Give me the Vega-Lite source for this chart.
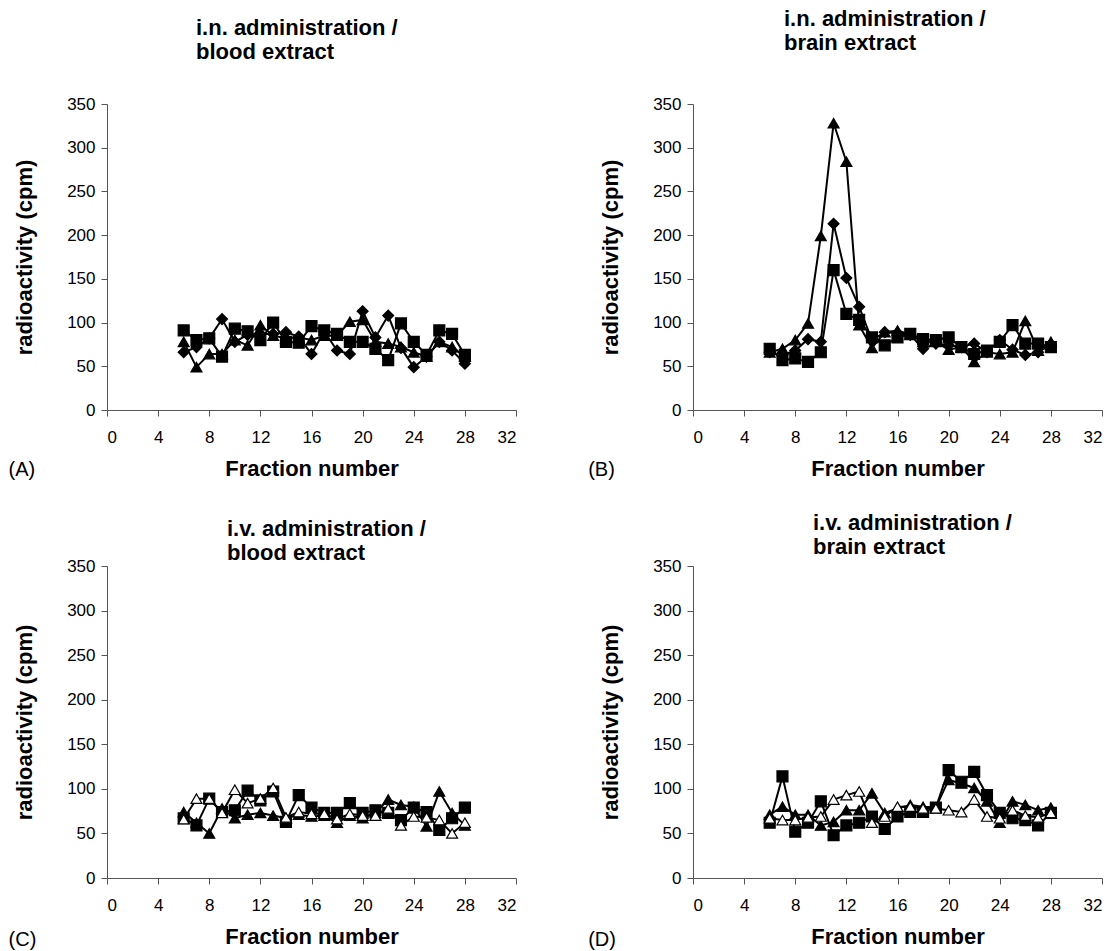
{
"$schema":"https://vega.github.io/schema/vega-lite/v6.json",
"padding":{"left":8,"top":8,"right":3,"bottom":2},
"background":"white",
"config":{
 "view":{"stroke":null},
 "font":"Liberation Sans",
 "axis":{"grid":false,"labelFont":"Liberation Sans","labelFontSize":17,"labelColor":"black","titleFont":"Liberation Sans","titleFontSize":22,"titleFontWeight":"bold","titleColor":"black","domainColor":"#555","tickColor":"#555","tickSize":6},
 "axisY":{"titlePadding":30,"labelPadding":6},
 "axisX":{"titlePadding":13,"labelPadding":13},
 "title":{"font":"Liberation Sans","fontSize":22,"fontWeight":"bold","color":"black","anchor":"start","frame":"group","lineHeight":24}
},
"datasets":{"d":[
{"p":"A","s":"square","x":6,"y":91},{"p":"A","s":"square","x":7,"y":80},{"p":"A","s":"square","x":8,"y":82},{"p":"A","s":"square","x":9,"y":61},{"p":"A","s":"square","x":10,"y":93},{"p":"A","s":"square","x":11,"y":90},{"p":"A","s":"square","x":12,"y":80},{"p":"A","s":"square","x":13,"y":100},{"p":"A","s":"square","x":14,"y":78},{"p":"A","s":"square","x":15,"y":77},{"p":"A","s":"square","x":16,"y":96},{"p":"A","s":"square","x":17,"y":91},{"p":"A","s":"square","x":18,"y":87},{"p":"A","s":"square","x":19,"y":78},{"p":"A","s":"square","x":20,"y":78},{"p":"A","s":"square","x":21,"y":70},{"p":"A","s":"square","x":22,"y":57},{"p":"A","s":"square","x":23,"y":99},{"p":"A","s":"square","x":24,"y":78},{"p":"A","s":"square","x":25,"y":63},{"p":"A","s":"square","x":26,"y":91},{"p":"A","s":"square","x":27,"y":87},{"p":"A","s":"square","x":28,"y":63},
{"p":"A","s":"diamond","x":6,"y":66},{"p":"A","s":"diamond","x":7,"y":72},{"p":"A","s":"diamond","x":8,"y":82},{"p":"A","s":"diamond","x":9,"y":104},{"p":"A","s":"diamond","x":10,"y":78},{"p":"A","s":"diamond","x":11,"y":86},{"p":"A","s":"diamond","x":12,"y":87},{"p":"A","s":"diamond","x":13,"y":87},{"p":"A","s":"diamond","x":14,"y":89},{"p":"A","s":"diamond","x":15,"y":84},{"p":"A","s":"diamond","x":16,"y":64},{"p":"A","s":"diamond","x":17,"y":90},{"p":"A","s":"diamond","x":18,"y":68},{"p":"A","s":"diamond","x":19,"y":64},{"p":"A","s":"diamond","x":20,"y":113},{"p":"A","s":"diamond","x":21,"y":83},{"p":"A","s":"diamond","x":22,"y":108},{"p":"A","s":"diamond","x":23,"y":71},{"p":"A","s":"diamond","x":24,"y":49},{"p":"A","s":"diamond","x":25,"y":61},{"p":"A","s":"diamond","x":26,"y":78},{"p":"A","s":"diamond","x":27,"y":68},{"p":"A","s":"diamond","x":28,"y":53},
{"p":"A","s":"tri","x":6,"y":78},{"p":"A","s":"tri","x":7,"y":49},{"p":"A","s":"tri","x":8,"y":64},{"p":"A","s":"tri","x":9,"y":64},{"p":"A","s":"tri","x":10,"y":80},{"p":"A","s":"tri","x":11,"y":74},{"p":"A","s":"tri","x":12,"y":97},{"p":"A","s":"tri","x":13,"y":85},{"p":"A","s":"tri","x":14,"y":82},{"p":"A","s":"tri","x":15,"y":83},{"p":"A","s":"tri","x":16,"y":80},{"p":"A","s":"tri","x":17,"y":85},{"p":"A","s":"tri","x":18,"y":85},{"p":"A","s":"tri","x":19,"y":101},{"p":"A","s":"tri","x":20,"y":103},{"p":"A","s":"tri","x":21,"y":78},{"p":"A","s":"tri","x":22,"y":76},{"p":"A","s":"tri","x":23,"y":72},{"p":"A","s":"tri","x":24,"y":66},{"p":"A","s":"tri","x":25,"y":61},{"p":"A","s":"tri","x":26,"y":78},{"p":"A","s":"tri","x":27,"y":72},{"p":"A","s":"tri","x":28,"y":61},
{"p":"B","s":"tri","x":6,"y":66},{"p":"B","s":"tri","x":7,"y":70},{"p":"B","s":"tri","x":8,"y":80},{"p":"B","s":"tri","x":9,"y":99},{"p":"B","s":"tri","x":10,"y":199},{"p":"B","s":"tri","x":11,"y":328},{"p":"B","s":"tri","x":12,"y":284},{"p":"B","s":"tri","x":13,"y":97},{"p":"B","s":"tri","x":14,"y":71},{"p":"B","s":"tri","x":15,"y":89},{"p":"B","s":"tri","x":16,"y":91},{"p":"B","s":"tri","x":17,"y":86},{"p":"B","s":"tri","x":18,"y":78},{"p":"B","s":"tri","x":19,"y":78},{"p":"B","s":"tri","x":20,"y":69},{"p":"B","s":"tri","x":21,"y":72},{"p":"B","s":"tri","x":22,"y":55},{"p":"B","s":"tri","x":23,"y":66},{"p":"B","s":"tri","x":24,"y":64},{"p":"B","s":"tri","x":25,"y":66},{"p":"B","s":"tri","x":26,"y":102},{"p":"B","s":"tri","x":27,"y":68},{"p":"B","s":"tri","x":28,"y":78},
{"p":"B","s":"diamond","x":6,"y":66},{"p":"B","s":"diamond","x":7,"y":63},{"p":"B","s":"diamond","x":8,"y":68},{"p":"B","s":"diamond","x":9,"y":81},{"p":"B","s":"diamond","x":10,"y":78},{"p":"B","s":"diamond","x":11,"y":213},{"p":"B","s":"diamond","x":12,"y":151},{"p":"B","s":"diamond","x":13,"y":118},{"p":"B","s":"diamond","x":14,"y":80},{"p":"B","s":"diamond","x":15,"y":89},{"p":"B","s":"diamond","x":16,"y":88},{"p":"B","s":"diamond","x":17,"y":86},{"p":"B","s":"diamond","x":18,"y":70},{"p":"B","s":"diamond","x":19,"y":76},{"p":"B","s":"diamond","x":20,"y":74},{"p":"B","s":"diamond","x":21,"y":72},{"p":"B","s":"diamond","x":22,"y":76},{"p":"B","s":"diamond","x":23,"y":66},{"p":"B","s":"diamond","x":24,"y":80},{"p":"B","s":"diamond","x":25,"y":69},{"p":"B","s":"diamond","x":26,"y":63},{"p":"B","s":"diamond","x":27,"y":66},{"p":"B","s":"diamond","x":28,"y":75},
{"p":"B","s":"square","x":6,"y":70},{"p":"B","s":"square","x":7,"y":57},{"p":"B","s":"square","x":8,"y":59},{"p":"B","s":"square","x":9,"y":55},{"p":"B","s":"square","x":10,"y":66},{"p":"B","s":"square","x":11,"y":160},{"p":"B","s":"square","x":12,"y":110},{"p":"B","s":"square","x":13,"y":103},{"p":"B","s":"square","x":14,"y":83},{"p":"B","s":"square","x":15,"y":74},{"p":"B","s":"square","x":16,"y":83},{"p":"B","s":"square","x":17,"y":87},{"p":"B","s":"square","x":18,"y":81},{"p":"B","s":"square","x":19,"y":80},{"p":"B","s":"square","x":20,"y":83},{"p":"B","s":"square","x":21,"y":72},{"p":"B","s":"square","x":22,"y":64},{"p":"B","s":"square","x":23,"y":68},{"p":"B","s":"square","x":24,"y":78},{"p":"B","s":"square","x":25,"y":97},{"p":"B","s":"square","x":26,"y":76},{"p":"B","s":"square","x":27,"y":76},{"p":"B","s":"square","x":28,"y":72},
{"p":"C","s":"square","x":6,"y":67},{"p":"C","s":"square","x":7,"y":59},{"p":"C","s":"square","x":8,"y":89},{"p":"C","s":"square","x":9,"y":74},{"p":"C","s":"square","x":10,"y":76},{"p":"C","s":"square","x":11,"y":98},{"p":"C","s":"square","x":12,"y":87},{"p":"C","s":"square","x":13,"y":97},{"p":"C","s":"square","x":14,"y":63},{"p":"C","s":"square","x":15,"y":93},{"p":"C","s":"square","x":16,"y":79},{"p":"C","s":"square","x":17,"y":73},{"p":"C","s":"square","x":18,"y":73},{"p":"C","s":"square","x":19,"y":84},{"p":"C","s":"square","x":20,"y":73},{"p":"C","s":"square","x":21,"y":76},{"p":"C","s":"square","x":22,"y":73},{"p":"C","s":"square","x":23,"y":65},{"p":"C","s":"square","x":24,"y":79},{"p":"C","s":"square","x":25,"y":74},{"p":"C","s":"square","x":26,"y":54},{"p":"C","s":"square","x":27,"y":67},{"p":"C","s":"square","x":28,"y":79},
{"p":"C","s":"tri","x":6,"y":74},{"p":"C","s":"tri","x":7,"y":62},{"p":"C","s":"tri","x":8,"y":50},{"p":"C","s":"tri","x":9,"y":78},{"p":"C","s":"tri","x":10,"y":67},{"p":"C","s":"tri","x":11,"y":71},{"p":"C","s":"tri","x":12,"y":73},{"p":"C","s":"tri","x":13,"y":70},{"p":"C","s":"tri","x":14,"y":67},{"p":"C","s":"tri","x":15,"y":71},{"p":"C","s":"tri","x":16,"y":69},{"p":"C","s":"tri","x":17,"y":70},{"p":"C","s":"tri","x":18,"y":62},{"p":"C","s":"tri","x":19,"y":70},{"p":"C","s":"tri","x":20,"y":67},{"p":"C","s":"tri","x":21,"y":73},{"p":"C","s":"tri","x":22,"y":88},{"p":"C","s":"tri","x":23,"y":82},{"p":"C","s":"tri","x":24,"y":80},{"p":"C","s":"tri","x":25,"y":58},{"p":"C","s":"tri","x":26,"y":97},{"p":"C","s":"tri","x":27,"y":73},{"p":"C","s":"tri","x":28,"y":59},
{"p":"C","s":"open","x":6,"y":66},{"p":"C","s":"open","x":7,"y":89},{"p":"C","s":"open","x":8,"y":89},{"p":"C","s":"open","x":9,"y":73},{"p":"C","s":"open","x":10,"y":99},{"p":"C","s":"open","x":11,"y":84},{"p":"C","s":"open","x":12,"y":89},{"p":"C","s":"open","x":13,"y":101},{"p":"C","s":"open","x":14,"y":68},{"p":"C","s":"open","x":15,"y":74},{"p":"C","s":"open","x":16,"y":72},{"p":"C","s":"open","x":17,"y":72},{"p":"C","s":"open","x":18,"y":66},{"p":"C","s":"open","x":19,"y":72},{"p":"C","s":"open","x":20,"y":70},{"p":"C","s":"open","x":21,"y":70},{"p":"C","s":"open","x":22,"y":78},{"p":"C","s":"open","x":23,"y":59},{"p":"C","s":"open","x":24,"y":69},{"p":"C","s":"open","x":25,"y":68},{"p":"C","s":"open","x":26,"y":65},{"p":"C","s":"open","x":27,"y":50},{"p":"C","s":"open","x":28,"y":62},
{"p":"D","s":"square","x":6,"y":62},{"p":"D","s":"square","x":7,"y":114},{"p":"D","s":"square","x":8,"y":52},{"p":"D","s":"square","x":9,"y":62},{"p":"D","s":"square","x":10,"y":86},{"p":"D","s":"square","x":11,"y":48},{"p":"D","s":"square","x":12,"y":59},{"p":"D","s":"square","x":13,"y":62},{"p":"D","s":"square","x":14,"y":69},{"p":"D","s":"square","x":15,"y":55},{"p":"D","s":"square","x":16,"y":69},{"p":"D","s":"square","x":17,"y":74},{"p":"D","s":"square","x":18,"y":74},{"p":"D","s":"square","x":19,"y":79},{"p":"D","s":"square","x":20,"y":121},{"p":"D","s":"square","x":21,"y":108},{"p":"D","s":"square","x":22,"y":119},{"p":"D","s":"square","x":23,"y":93},{"p":"D","s":"square","x":24,"y":73},{"p":"D","s":"square","x":25,"y":67},{"p":"D","s":"square","x":26,"y":65},{"p":"D","s":"square","x":27,"y":59},{"p":"D","s":"square","x":28,"y":73},
{"p":"D","s":"tri","x":6,"y":71},{"p":"D","s":"tri","x":7,"y":80},{"p":"D","s":"tri","x":8,"y":71},{"p":"D","s":"tri","x":9,"y":71},{"p":"D","s":"tri","x":10,"y":59},{"p":"D","s":"tri","x":11,"y":63},{"p":"D","s":"tri","x":12,"y":76},{"p":"D","s":"tri","x":13,"y":76},{"p":"D","s":"tri","x":14,"y":95},{"p":"D","s":"tri","x":15,"y":73},{"p":"D","s":"tri","x":16,"y":78},{"p":"D","s":"tri","x":17,"y":82},{"p":"D","s":"tri","x":18,"y":80},{"p":"D","s":"tri","x":19,"y":79},{"p":"D","s":"tri","x":20,"y":110},{"p":"D","s":"tri","x":21,"y":106},{"p":"D","s":"tri","x":22,"y":101},{"p":"D","s":"tri","x":23,"y":86},{"p":"D","s":"tri","x":24,"y":62},{"p":"D","s":"tri","x":25,"y":86},{"p":"D","s":"tri","x":26,"y":82},{"p":"D","s":"tri","x":27,"y":76},{"p":"D","s":"tri","x":28,"y":79},
{"p":"D","s":"open","x":6,"y":67},{"p":"D","s":"open","x":7,"y":65},{"p":"D","s":"open","x":8,"y":65},{"p":"D","s":"open","x":9,"y":68},{"p":"D","s":"open","x":10,"y":69},{"p":"D","s":"open","x":11,"y":88},{"p":"D","s":"open","x":12,"y":93},{"p":"D","s":"open","x":13,"y":97},{"p":"D","s":"open","x":14,"y":62},{"p":"D","s":"open","x":15,"y":69},{"p":"D","s":"open","x":16,"y":80},{"p":"D","s":"open","x":17,"y":80},{"p":"D","s":"open","x":18,"y":78},{"p":"D","s":"open","x":19,"y":78},{"p":"D","s":"open","x":20,"y":76},{"p":"D","s":"open","x":21,"y":74},{"p":"D","s":"open","x":22,"y":88},{"p":"D","s":"open","x":23,"y":69},{"p":"D","s":"open","x":24,"y":67},{"p":"D","s":"open","x":25,"y":76},{"p":"D","s":"open","x":26,"y":70},{"p":"D","s":"open","x":27,"y":68},{"p":"D","s":"open","x":28,"y":73}
]},
"vconcat":[
 {"hconcat":[
  {"width":409,"height":306,
   "title":{"text":["i.n. administration /","blood extract"],"dx":89,"offset":31},
   "layer":[
    {"data":{"name":"d"},"transform":[{"filter":"datum.p==='A'"}],"mark":{"type":"line","color":"black","strokeWidth":2},
     "encoding":{"x":{"field":"x","type":"quantitative","scale":{"domain":[0,32],"nice":false,"zero":false},"axis":{"values":[0,4,8,12,16,20,24,28,32],"title":"Fraction number"}},"y":{"field":"y","type":"quantitative","scale":{"domain":[0,350],"nice":false},"axis":{"values":[0,50,100,150,200,250,300,350],"title":"radioactivity (cpm)"}},"detail":{"field":"s"}}},
    {"data":{"name":"d"},"transform":[{"filter":"datum.p==='A'"}],"mark":{"type":"point","filled":true,"stroke":"black","strokeWidth":1.2,"opacity":1,"size":120},
     "encoding":{"x":{"field":"x","type":"quantitative"},"y":{"field":"y","type":"quantitative"},"shape":{"field":"s","scale":{"domain":["diamond","square","tri","open"],"range":["diamond","square","triangle-up","triangle-up"]},"legend":null},"fill":{"field":"s","scale":{"domain":["diamond","square","tri","open"],"range":["black","black","black","white"]},"legend":null}}},
    {"data":{"values":[{"lab":"(A)"}]},"mark":{"type":"text","font":"Liberation Sans","fontSize":20,"align":"left","baseline":"middle","color":"black"},
     "encoding":{"x":{"datum":-7.7,"type":"quantitative","title":"Fraction number"},"y":{"datum":-69,"type":"quantitative","title":"radioactivity (cpm)"},"text":{"field":"lab"}}}
   ]},
  {"width":409,"height":306,
   "title":{"text":["i.n. administration /","brain extract"],"dx":91,"offset":40},
   "layer":[
    {"data":{"name":"d"},"transform":[{"filter":"datum.p==='B'"}],"mark":{"type":"line","color":"black","strokeWidth":2},
     "encoding":{"x":{"field":"x","type":"quantitative","scale":{"domain":[0,32],"nice":false,"zero":false},"axis":{"values":[0,4,8,12,16,20,24,28,32],"title":"Fraction number"}},"y":{"field":"y","type":"quantitative","scale":{"domain":[0,350],"nice":false},"axis":{"values":[0,50,100,150,200,250,300,350],"title":"radioactivity (cpm)"}},"detail":{"field":"s"}}},
    {"data":{"name":"d"},"transform":[{"filter":"datum.p==='B'"}],"mark":{"type":"point","filled":true,"stroke":"black","strokeWidth":1.2,"opacity":1,"size":120},
     "encoding":{"x":{"field":"x","type":"quantitative"},"y":{"field":"y","type":"quantitative"},"shape":{"field":"s","scale":{"domain":["diamond","square","tri","open"],"range":["diamond","square","triangle-up","triangle-up"]},"legend":null},"fill":{"field":"s","scale":{"domain":["diamond","square","tri","open"],"range":["black","black","black","white"]},"legend":null}}},
    {"data":{"values":[{"lab":"(B)"}]},"mark":{"type":"text","font":"Liberation Sans","fontSize":20,"align":"left","baseline":"middle","color":"black"},
     "encoding":{"x":{"datum":-8.2,"type":"quantitative","title":"Fraction number"},"y":{"datum":-69,"type":"quantitative","title":"radioactivity (cpm)"},"text":{"field":"lab"}}}
   ]}
 ],"spacing":71},
 {"hconcat":[
  {"width":409,"height":312,
   "title":{"text":["i.v. administration /","blood extract"],"dx":120,"offset":-8},
   "layer":[
    {"data":{"name":"d"},"transform":[{"filter":"datum.p==='C'"}],"mark":{"type":"line","color":"black","strokeWidth":2},
     "encoding":{"x":{"field":"x","type":"quantitative","scale":{"domain":[0,32],"nice":false,"zero":false},"axis":{"values":[0,4,8,12,16,20,24,28,32],"title":"Fraction number"}},"y":{"field":"y","type":"quantitative","scale":{"domain":[0,350],"nice":false},"axis":{"values":[0,50,100,150,200,250,300,350],"title":"radioactivity (cpm)"}},"detail":{"field":"s"}}},
    {"data":{"name":"d"},"transform":[{"filter":"datum.p==='C'"}],"mark":{"type":"point","filled":true,"stroke":"black","strokeWidth":1.2,"opacity":1,"size":120},
     "encoding":{"x":{"field":"x","type":"quantitative"},"y":{"field":"y","type":"quantitative"},"shape":{"field":"s","scale":{"domain":["diamond","square","tri","open"],"range":["diamond","square","triangle-up","triangle-up"]},"legend":null},"fill":{"field":"s","scale":{"domain":["diamond","square","tri","open"],"range":["black","black","black","white"]},"legend":null}}},
    {"data":{"values":[{"lab":"(C)"}]},"mark":{"type":"text","font":"Liberation Sans","fontSize":20,"align":"left","baseline":"middle","color":"black"},
     "encoding":{"x":{"datum":-7.7,"type":"quantitative","title":"Fraction number"},"y":{"datum":-69,"type":"quantitative","title":"radioactivity (cpm)"},"text":{"field":"lab"}}}
   ]},
  {"width":409,"height":312,
   "title":{"text":["i.v. administration /","brain extract"],"dx":120,"offset":-2},
   "layer":[
    {"data":{"name":"d"},"transform":[{"filter":"datum.p==='D'"}],"mark":{"type":"line","color":"black","strokeWidth":2},
     "encoding":{"x":{"field":"x","type":"quantitative","scale":{"domain":[0,32],"nice":false,"zero":false},"axis":{"values":[0,4,8,12,16,20,24,28,32],"title":"Fraction number"}},"y":{"field":"y","type":"quantitative","scale":{"domain":[0,350],"nice":false},"axis":{"values":[0,50,100,150,200,250,300,350],"title":"radioactivity (cpm)"}},"detail":{"field":"s"}}},
    {"data":{"name":"d"},"transform":[{"filter":"datum.p==='D'"}],"mark":{"type":"point","filled":true,"stroke":"black","strokeWidth":1.2,"opacity":1,"size":120},
     "encoding":{"x":{"field":"x","type":"quantitative"},"y":{"field":"y","type":"quantitative"},"shape":{"field":"s","scale":{"domain":["diamond","square","tri","open"],"range":["diamond","square","triangle-up","triangle-up"]},"legend":null},"fill":{"field":"s","scale":{"domain":["diamond","square","tri","open"],"range":["black","black","black","white"]},"legend":null}}},
    {"data":{"values":[{"lab":"(D)"}]},"mark":{"type":"text","font":"Liberation Sans","fontSize":20,"align":"left","baseline":"middle","color":"black"},
     "encoding":{"x":{"datum":-8.2,"type":"quantitative","title":"Fraction number"},"y":{"datum":-69,"type":"quantitative","title":"radioactivity (cpm)"},"text":{"field":"lab"}}}
   ]}
 ],"spacing":71}
],
"spacing":31
}
